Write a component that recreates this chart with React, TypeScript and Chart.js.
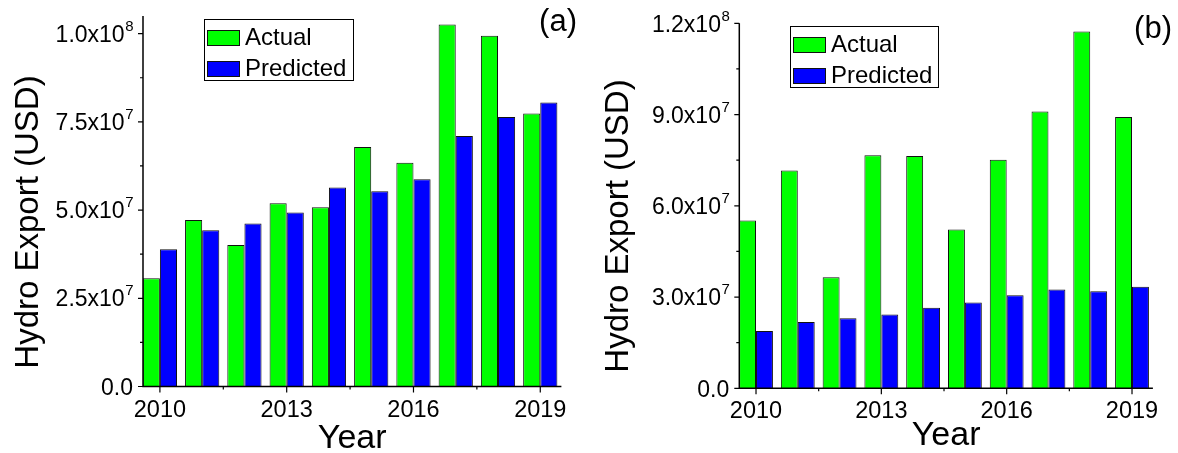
import React, { useEffect, useRef } from 'react';
import { Chart, registerables } from 'chart.js';

Chart.register(...registerables);

// ---------------- data ----------------
const years = [2010, 2011, 2012, 2013, 2014, 2015, 2016, 2017, 2018, 2019];
const seriesNames = ['Actual', 'Predicted'];
const seriesColors = ['#00ff00', '#0000ff'];

const actualA = [3.07e7, 4.72e7, 4.01e7, 5.19e7, 5.08e7, 6.79e7, 6.34e7, 1.026e8, 9.94e7, 7.74e7];
const predictedA = [3.89e7, 4.43e7, 4.62e7, 4.93e7, 5.64e7, 5.53e7, 5.87e7, 7.1e7, 7.64e7, 8.05e7];
const actualB = [5.52e7, 7.16e7, 3.65e7, 7.66e7, 7.64e7, 5.22e7, 7.51e7, 9.1e7, 1.173e8, 8.92e7];
const predictedB = [1.88e7, 2.18e7, 2.3e7, 2.43e7, 2.65e7, 2.82e7, 3.06e7, 3.25e7, 3.19e7, 3.34e7];

const xTickYears = [2010, 2013, 2016, 2019];
const xMinorYears = [2011.5, 2014.5, 2017.5];
const yTicksA = [0, 2.5e7, 5e7, 7.5e7, 1e8];
const yMinorA = [1.25e7, 3.75e7, 6.25e7, 8.75e7];
const yTicksB = [0, 3e7, 6e7, 9e7, 1.2e8];
const yMinorB = [1.5e7, 4.5e7, 7.5e7, 1.05e8];

const xTitle = 'Year';
const yTitle = 'Hydro Export (USD)';
const panelTags = ['(a)', '(b)'];

const FONT = '"Liberation Sans", Arial, Helvetica, sans-serif';

// ---------------- layout per panel ----------------
const panels = [
  {
    tag: panelTags[0], actual: actualA, predicted: predictedA, yTicks: yTicksA, yMinor: yMinorA,
    yMax: 1.05e8, canvasLeft: 0, canvasWidth: 590,
    yAxisW: 143, padTop: 16, padRight: 28.6, xAxisH: 66.5,
    yTitleX: 29, yTitleY: 222, xTitleBase: 448,
    legend: { x: 204, y: 19, w: 149, h: 61 },
    tagRight: 577, tagY: 22,
  },
  {
    tag: panelTags[1], actual: actualB, predicted: predictedB, yTicks: yTicksB, yMinor: yMinorB,
    yMax: 1.2e8, canvasLeft: 590, canvasWidth: 588,
    yAxisW: 149.3, padTop: 23.3, padRight: 25.1, xAxisH: 64.7,
    yTitleX: 29, yTitleY: 226, xTitleBase: 445,
    legend: { x: 200, y: 26, w: 148, h: 61 },
    tagRight: 582, tagY: 29,
  },
];

function splitLabel(v: number): [string, string] {
  if (v === 0) return ['0.0', ''];
  const e = Math.floor(Math.log10(v) + 1e-9);
  const m = v / Math.pow(10, e);
  return [m.toFixed(1) + 'x10', String(e)];
}

function makeDecor(p: any) {
  return {
    id: 'decor',
    afterDraw(chart: any) {
      const ctx = chart.ctx as CanvasRenderingContext2D;
      const xs = chart.scales.x;
      const ys = chart.scales.y;
      const { left, right, top, bottom } = chart.chartArea;
      ctx.save();
      ctx.strokeStyle = '#000';
      ctx.fillStyle = '#000';

      // axis lines
      ctx.lineWidth = 1.5;
      ctx.beginPath();
      ctx.moveTo(left, top);
      ctx.lineTo(left, bottom);
      ctx.lineTo(right, bottom);
      ctx.stroke();

      // tick marks
      ctx.lineWidth = 1.2;
      ctx.beginPath();
      for (const v of p.yTicks) {
        const y = ys.getPixelForValue(v);
        ctx.moveTo(left - 5, y);
        ctx.lineTo(left, y);
      }
      for (const v of p.yMinor) {
        const y = ys.getPixelForValue(v);
        ctx.moveTo(left - 3, y);
        ctx.lineTo(left, y);
      }
      for (const v of xTickYears) {
        const x = xs.getPixelForValue(v);
        ctx.moveTo(x, bottom);
        ctx.lineTo(x, bottom + 6);
      }
      for (const v of xMinorYears) {
        const x = xs.getPixelForValue(v);
        ctx.moveTo(x, bottom);
        ctx.lineTo(x, bottom + 3);
      }
      ctx.stroke();

      // y tick labels with superscript exponent
      const baseFont = `23px ${FONT}`;
      const supFont = `15px ${FONT}`;
      ctx.textBaseline = 'alphabetic';
      for (const v of p.yTicks) {
        const y = ys.getPixelForValue(v);
        const [base, exp] = splitLabel(v);
        const rightEdge = left - 10;
        ctx.font = supFont;
        const supW = exp ? ctx.measureText(exp).width : 0;
        ctx.font = baseFont;
        ctx.textAlign = 'right';
        const baseY = y + 8.2;
        ctx.fillText(base, rightEdge - supW, baseY);
        if (exp) {
          ctx.font = supFont;
          ctx.textAlign = 'left';
          ctx.fillText(exp, rightEdge - supW + 0.5, baseY - 11);
        }
      }

      // x tick labels
      ctx.font = `23.5px ${FONT}`;
      ctx.textAlign = 'center';
      ctx.textBaseline = 'alphabetic';
      for (const v of xTickYears) {
        const x = xs.getPixelForValue(v);
        ctx.fillText(String(v), x, bottom + 30);
      }

      // axis titles
      ctx.font = `34px ${FONT}`;
      ctx.textAlign = 'center';
      ctx.fillText(xTitle, (left + right) / 2, p.xTitleBase);
      ctx.save();
      ctx.translate(p.yTitleX, p.yTitleY);
      ctx.rotate(-Math.PI / 2);
      ctx.font = `33px ${FONT}`;
      ctx.textBaseline = 'middle';
      ctx.fillText(yTitle, 0, 0);
      ctx.restore();

      // panel tag
      ctx.font = `31px ${FONT}`;
      ctx.textAlign = 'right';
      ctx.textBaseline = 'middle';
      ctx.fillText(p.tag, p.tagRight, p.tagY);

      // legend
      const L = p.legend;
      ctx.lineWidth = 1;
      ctx.strokeStyle = '#000';
      ctx.strokeRect(L.x + 0.5, L.y + 0.5, L.w, L.h);
      ctx.font = `24px ${FONT}`;
      ctx.textAlign = 'left';
      ctx.textBaseline = 'middle';
      chart.data.datasets.forEach((ds: any, i: number) => {
        const sy = L.y + 11 + i * 31;
        ctx.fillStyle = ds.backgroundColor;
        ctx.fillRect(L.x + 3, sy, 33, 16);
        ctx.strokeStyle = '#111';
        ctx.strokeRect(L.x + 3.5, sy + 0.5, 32, 15);
        ctx.fillStyle = '#000';
        ctx.fillText(ds.label, L.x + 41, sy + 8.5);
      });
      ctx.restore();
    },
  };
}

function Panel({ p }: { p: any }) {
  const ref = useRef<HTMLCanvasElement | null>(null);
  useEffect(() => {
    if (!ref.current) return;
    const mk = (vals: number[]) => years.map((x, i) => ({ x, y: vals[i] }));
    const chart = new Chart(ref.current, {
      type: 'bar',
      data: {
        datasets: [
          {
            label: seriesNames[0], data: mk(p.actual) as any, backgroundColor: seriesColors[0],
            borderColor: '#111', borderWidth: 1, categoryPercentage: 0.81, barPercentage: 1,
          },
          {
            label: seriesNames[1], data: mk(p.predicted) as any, backgroundColor: seriesColors[1],
            borderColor: '#111', borderWidth: 1, categoryPercentage: 0.81, barPercentage: 1,
          },
        ],
      },
      options: {
        animation: false,
        responsive: false,
        maintainAspectRatio: false,
        layout: { padding: { left: 0, right: p.padRight, top: p.padTop, bottom: 0 } },
        plugins: { legend: { display: false }, tooltip: { enabled: false } },
        scales: {
          x: {
            type: 'linear', min: 2009.6, max: 2019.5, offset: false,
            grid: { display: false, offset: false }, border: { display: false }, ticks: { display: false },
            afterBuildTicks: (s: any) => { s.ticks = xTickYears.map((v) => ({ value: v })); },
            afterFit: (s: any) => { s.height = p.xAxisH; s.paddingLeft = 0; s.paddingRight = 0; },
          },
          y: {
            type: 'linear', min: 0, max: p.yMax,
            grid: { display: false }, border: { display: false }, ticks: { display: false },
            afterBuildTicks: (s: any) => { s.ticks = p.yTicks.map((v: number) => ({ value: v })); },
            afterFit: (s: any) => { s.width = p.yAxisW; s.paddingTop = 0; s.paddingBottom = 0; },
          },
        },
      } as any,
      plugins: [makeDecor(p)],
    });
    return () => chart.destroy();
  }, []);
  return (
    <canvas
      ref={ref}
      width={p.canvasWidth}
      height={453}
      style={{ position: 'absolute', left: p.canvasLeft, top: 0, width: p.canvasWidth, height: 453 }}
    />
  );
}

export default function App() {
  return (
    <div style={{ position: 'fixed', left: 0, top: 0, width: 1178, height: 453, background: '#fff', overflow: 'hidden' }}>
      {panels.map((p, i) => (
        <Panel key={i} p={p} />
      ))}
    </div>
  );
}
